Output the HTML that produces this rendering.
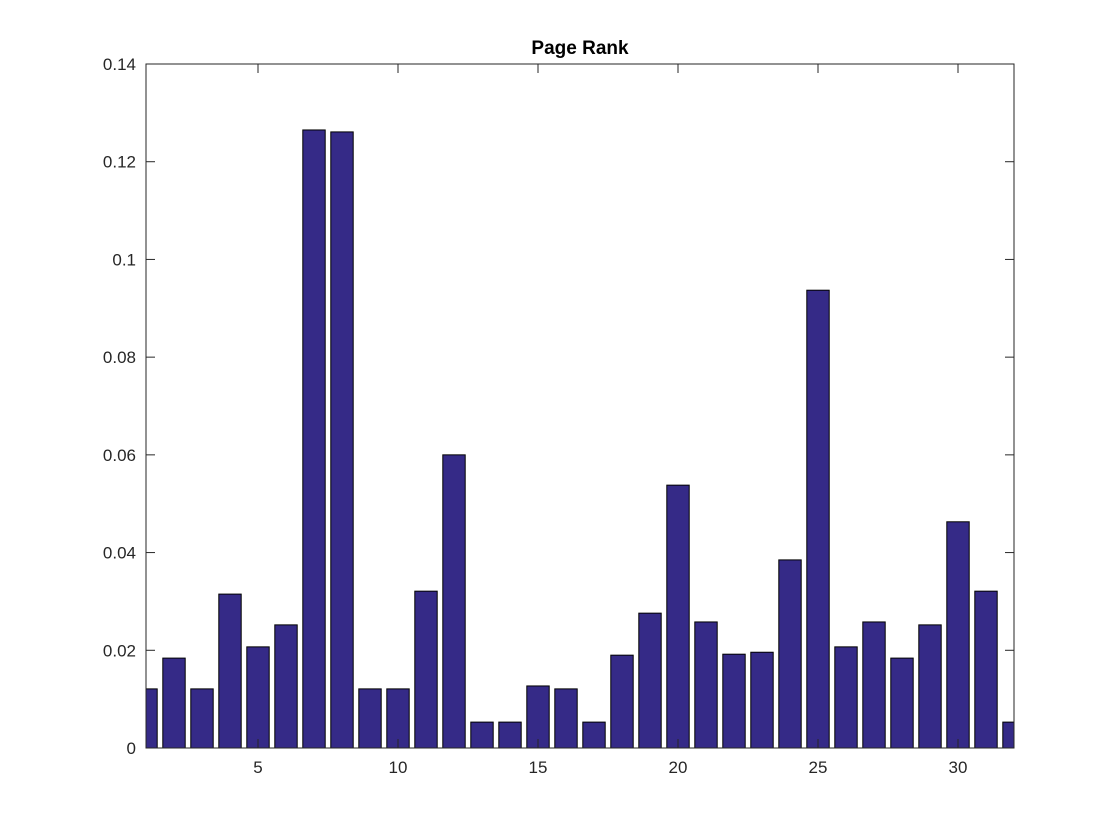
<!DOCTYPE html>
<html><head><meta charset="utf-8"><style>
body{margin:0;background:#fff;}
svg{display:block;font-family:"Liberation Sans",Arial,sans-serif;}
</style></head><body>
<svg id="chart" width="1120" height="840">
<defs><clipPath id="plotclip"><rect x="146" y="64" width="868" height="684"/></clipPath></defs>
<rect x="0" y="0" width="1120" height="840" fill="#fff"/>
<g id="bars" clip-path="url(#plotclip)"></g>
<g id="axes"></g>
<text x="580" y="54" text-anchor="middle" font-size="19" font-weight="bold" fill="#000">Page Rank</text>
</svg>
<script>
const categories = [1,2,3,4,5,6,7,8,9,10,11,12,13,14,15,16,17,18,19,20,21,22,23,24,25,26,27,28,29,30,31,32];
const values = [0.0121,0.0184,0.0121,0.0315,0.0207,0.0252,0.1265,0.1261,0.0121,0.0121,0.0321,0.0600,0.0053,0.0053,0.0127,0.0121,0.0053,0.0190,0.0276,0.0538,0.0258,0.0192,0.0196,0.0385,0.0937,0.0207,0.0258,0.0184,0.0252,0.0463,0.0321,0.0053];
const xTicks = [5,10,15,20,25,30];
const yTicks = [0,0.02,0.04,0.06,0.08,0.1,0.12,0.14];
const yTickLabels = ["0","0.02","0.04","0.06","0.08","0.1","0.12","0.14"];

const L=146,R=1014,T=64,B=748,xMin=1,xMax=32,yMin=0,yMax=0.14;
const xs=v=>L+(v-xMin)/(xMax-xMin)*(R-L);
const ys=v=>B-(v-yMin)/(yMax-yMin)*(B-T);
const NS="http://www.w3.org/2000/svg";
const bars=document.getElementById('bars'), axes=document.getElementById('axes');
const unit=(R-L)/(xMax-xMin), bw=unit*0.8;
function mk(tag,attrs,parent){const e=document.createElementNS(NS,tag);for(const k in attrs)e.setAttribute(k,attrs[k]);parent.appendChild(e);return e;}
categories.forEach((c,i)=>{
  const r=mk('rect',{x:xs(c)-bw/2,y:ys(values[i]),width:bw,height:ys(0)-ys(values[i]),fill:'#352a87',stroke:'#000','stroke-width':1},bars);
  
  
});
const box=mk('rect',{x:L,y:T,width:R-L,height:B-T,fill:'none',stroke:'#262626','stroke-width':1},axes);


xTicks.forEach(t=>{
  const x=xs(t);
  mk('line',{x1:x,y1:B,x2:x,y2:B-9,stroke:'#262626'},axes);
  mk('line',{x1:x,y1:T,x2:x,y2:T+9,stroke:'#262626'},axes);
  const tx=mk('text',{x:x,y:B+25,'text-anchor':'middle','font-size':17,fill:'#262626'},axes);
  tx.textContent=t;
  
  
});
yTicks.forEach((t,i)=>{
  const y=ys(t);
  mk('line',{x1:L,y1:y,x2:L+9,y2:y,stroke:'#262626'},axes);
  mk('line',{x1:R,y1:y,x2:R-9,y2:y,stroke:'#262626'},axes);
  const tx=mk('text',{x:L-10,y:y+6,'text-anchor':'end','font-size':17,fill:'#262626'},axes);
  tx.textContent=yTickLabels[i];
  
  
});
</script>
</body></html>
